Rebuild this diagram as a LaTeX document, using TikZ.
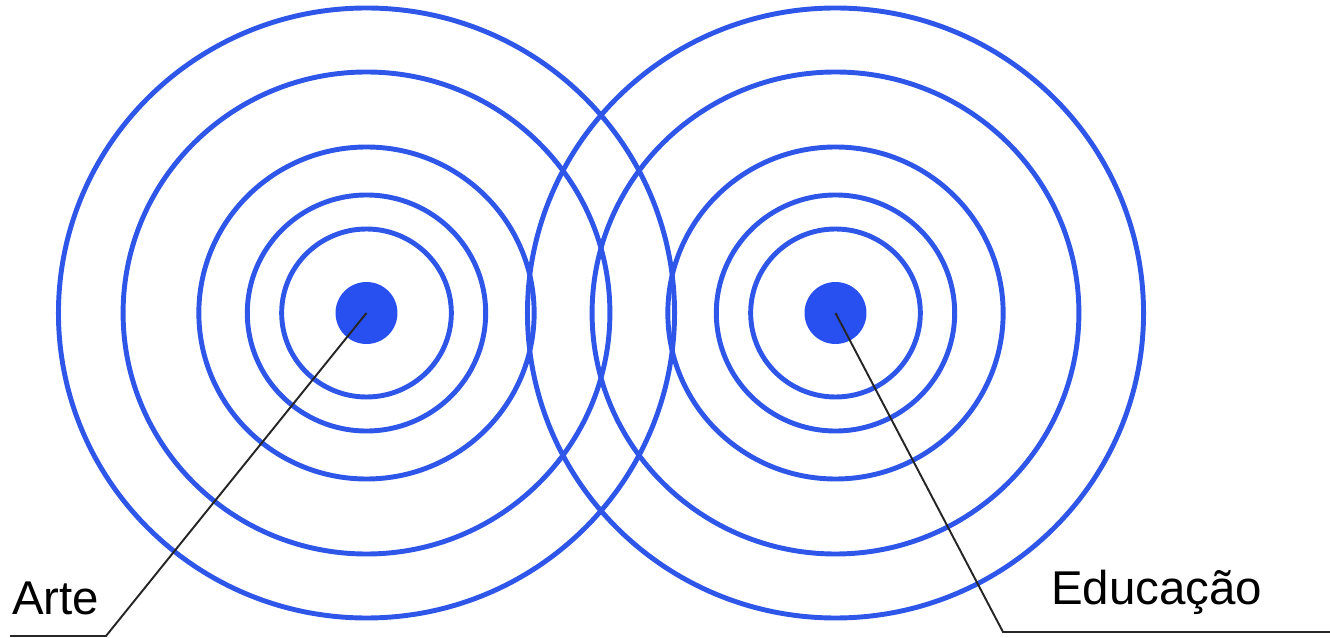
\documentclass[tikz,border=0pt]{standalone}
\usepackage{fontspec}
\setmainfont{Liberation Sans}
\definecolor{ringblue}{RGB}{46,86,232}
\definecolor{dotblue}{RGB}{40,80,240}
\begin{document}
\begin{tikzpicture}[x=0.02cm,y=-0.02cm,
  ring/.style={draw=ringblue,line width=2.8pt},
  dot/.style={circle,fill=dotblue,minimum size=1.24cm,inner sep=0pt},
  leader/.style={draw=black!85,line width=1.1pt},
  label/.style={font=\fontsize{27}{30}\selectfont,anchor=base west,inner sep=0pt}]
\useasboundingbox (0,0) rectangle (1330,638);
% centres
\coordinate (cl) at (366.5,313);
\coordinate (cr) at (835.5,313);
% rings
\foreach \r in {84,118,166,241,305}{
  \draw[ring] (cl) ellipse [x radius=\r*1.01, y radius=\r];
  \draw[ring] (cr) ellipse [x radius=\r*1.01, y radius=\r];
}
% dots
\node[dot] (arte) at (cl) {};
\node[dot] (edu) at (cr) {};
% leaders
\coordinate (ak) at (106,636);
\coordinate (ae) at (10,636);
\coordinate (ek) at (1003,632);
\coordinate (ee) at (1330,632);
\draw[leader] (arte.center) -- (ak) -- (ae);
\draw[leader] (edu.center) -- (ek) -- (ee);
% labels
\node[label] (tarte) at (12,615) {Arte};
\node[label] (tedu) at (1051,605) {Educação};
\end{tikzpicture}
\end{document}
